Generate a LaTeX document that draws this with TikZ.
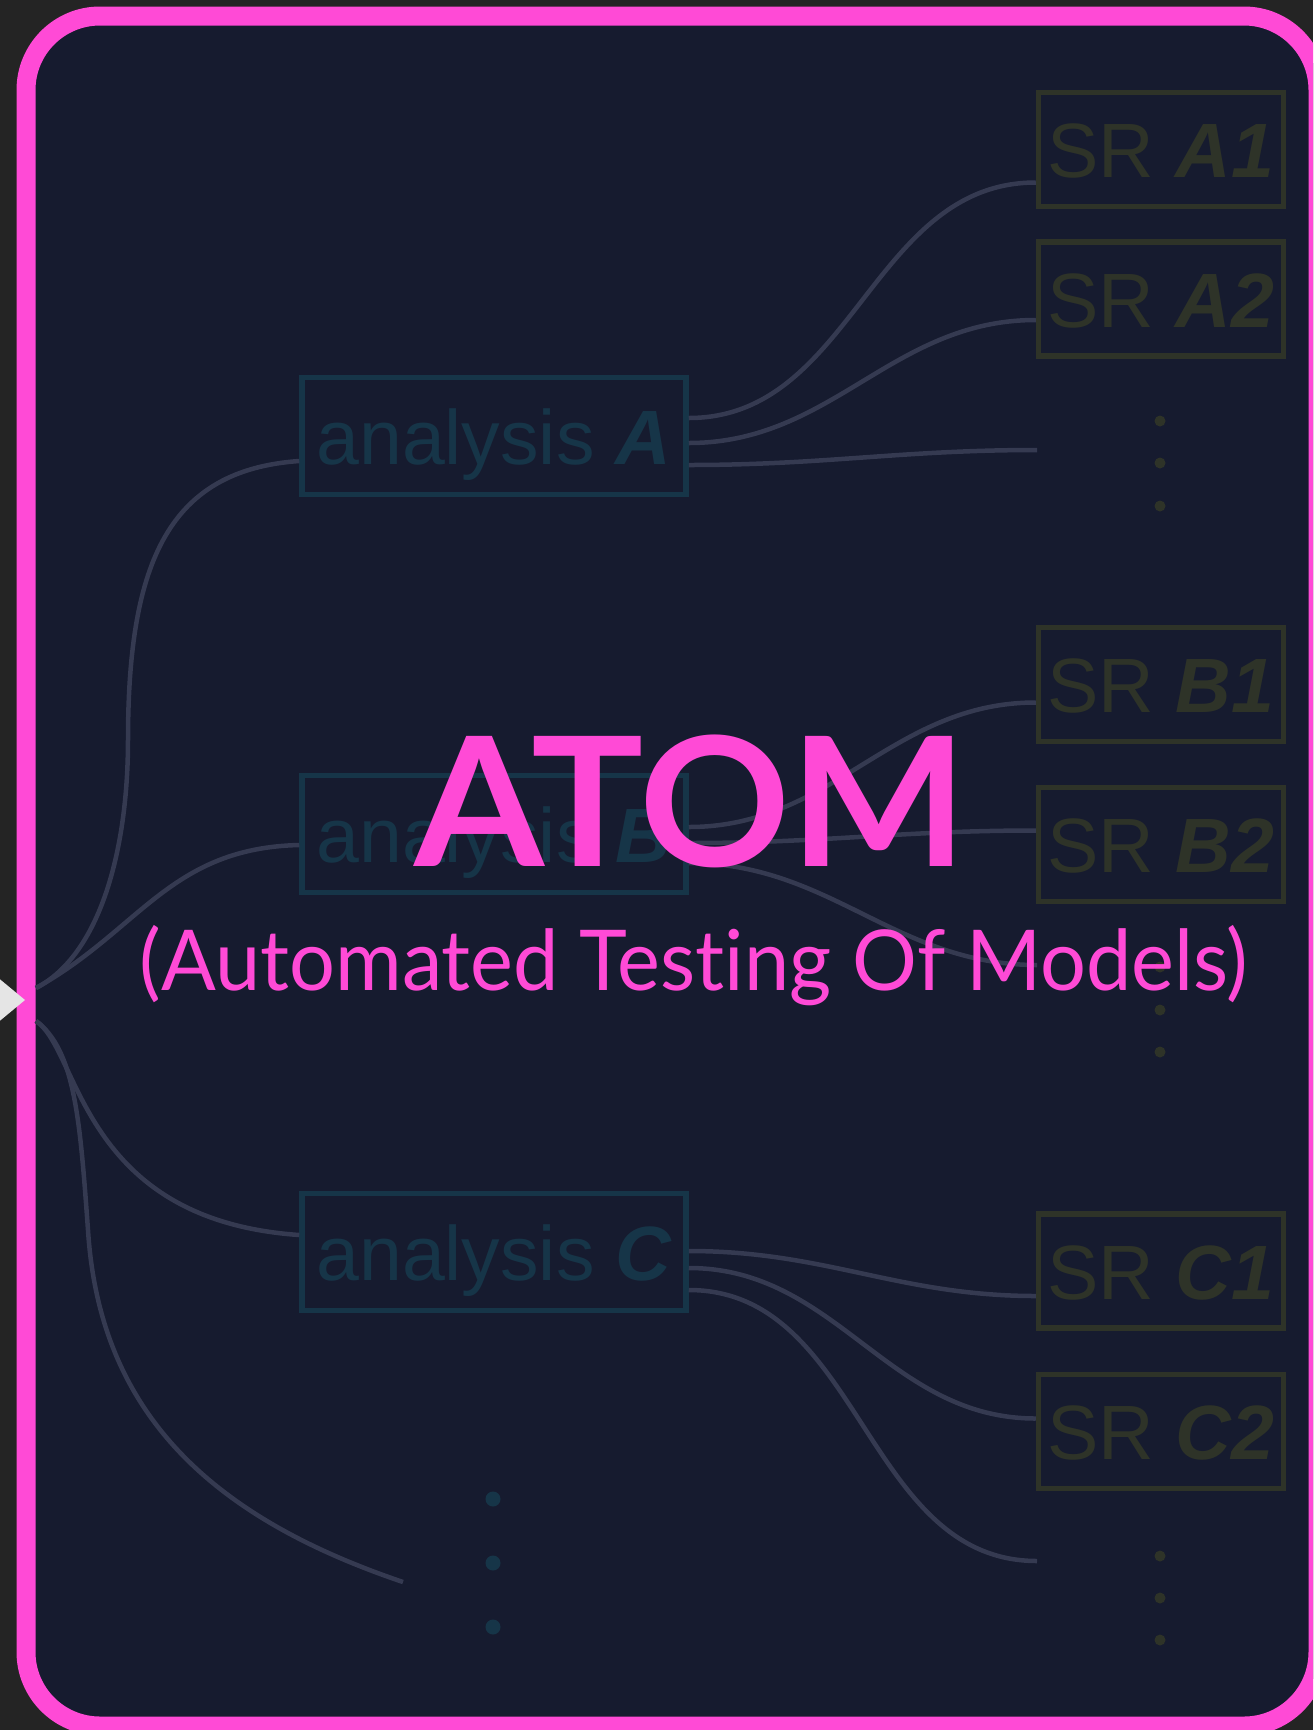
\documentclass[tikz,border=0pt]{standalone}
\usepackage{fontspec}
\usetikzlibrary{calc}
\newfontfamily\helv{Liberation Sans}
\newfontfamily\gill[Ligatures=NoCommon]{Lato}
\definecolor{slate}{HTML}{161B2F}
\definecolor{outside}{HTML}{242424}
\definecolor{hotpink}{HTML}{FF4AD6}
\definecolor{anacol}{HTML}{163548}
\definecolor{srcol}{HTML}{2E3328}
\definecolor{wire}{HTML}{353A51}
\tikzstyle{anabox} = [draw=anacol, text=anacol, line width=2.75pt, minimum width=192pt, minimum height=58.5pt, text height=28pt, text depth=0pt, inner sep=0pt, font=\helv\fontsize{38.5pt}{40pt}\selectfont]
\tikzstyle{srbox} = [draw=srcol, text=srcol, line width=2.75pt, minimum width=122.5pt, minimum height=57pt, text height=28pt, text depth=0pt, inner sep=0pt, font=\helv\fontsize{38.5pt}{40pt}\selectfont]
\tikzstyle{link} = [draw=wire, line width=2.25pt]

\begin{document}
\begin{tikzpicture}[x=0.5pt, y=-0.5pt]
    \useasboundingbox (0,0) rectangle (1313,1730);
    \clip (0,0) rectangle (1313,1730);
    \fill[outside] (0,0) rectangle (1313,1730);
    \draw[hotpink, line width=9.5pt, fill=slate, rounded corners=37pt] (26,16) rectangle (1318,1726);
    \fill[white!90!black] (-4,976) -- (25,1000) -- (-4,1024) -- cycle;

    % analyses
    \draw (494,436) node[anabox] (anaA) {analysis {\bfseries\itshape A}};
    \draw (494,834) node[anabox] (anaB) {analysis {\bfseries\itshape B}};
    \draw (494,1252) node[anabox] (anaC) {analysis {\bfseries\itshape C}};

    % signal regions
    \draw (1161,149.5) node[srbox] (srA1) {SR {\bfseries\itshape A1}};
    \draw (1161,299) node[srbox] (srA2) {SR {\bfseries\itshape A2}};
    \draw (1161,684.5) node[srbox] (srB1) {SR {\bfseries\itshape B1}};
    \draw (1161,844.5) node[srbox] (srB2) {SR {\bfseries\itshape B2}};
    \draw (1161,1271) node[srbox] (srC1) {SR {\bfseries\itshape C1}};
    \draw (1161,1431.5) node[srbox] (srC2) {SR {\bfseries\itshape C2}};

    \coordinate (root) at (36,1000);
    \coordinate (endA) at (1037,450);
    \coordinate (endB) at (1037,965);
    \coordinate (endC) at (1037,1561);
    \coordinate (endR) at (403,1582);

    % fan out of the root
    \draw[link] ($(root)+(0,-12)$) .. controls (100,955) and (128,850) .. (128,740) .. controls (128,560) and (170,470) .. ($(anaA.west)+(0,25)$);
    \draw[link] ($(root)+(0,-12)$) .. controls (140,930) and (170,848) .. ($(anaB.west)+(0,11)$);
    \draw[link] ($(root)+(0,21)$) .. controls (80,1050) and (80,1220) .. ($(anaC.west)+(0,-17)$);
    \draw[link] ($(root)+(0,21)$) .. controls (75,1050) and (80,1120) .. (88,1230) .. controls (100,1420) and (220,1520) .. (endR);

    % analysis -> SR
    \draw[link] ($(anaA.east)+(0,-18)$) to[out=0,in=180] ($(srA1.west)+(0,33)$);
    \draw[link] ($(anaA.east)+(0,7)$) to[out=0,in=180] ($(srA2.west)+(0,21)$);
    \draw[link] ($(anaA.east)+(0,29)$) to[out=0,in=180] (endA);
    \draw[link] ($(anaB.east)+(0,-7)$) to[out=0,in=180] ($(srB1.west)+(0,18)$);
    \draw[link] ($(anaB.east)+(0,9)$) to[out=0,in=180] ($(srB2.west)+(0,-14)$);
    \draw[link] ($(anaB.east)+(0,29)$) to[out=0,in=180] (endB);
    \draw[link] ($(anaC.east)+(0,-1)$) to[out=0,in=180] ($(srC1.west)+(0,25)$);
    \draw[link] ($(anaC.east)+(0,16)$) to[out=0,in=180] ($(srC2.west)+(0,-13)$);
    \draw[link] ($(anaC.east)+(0,38)$) to[out=0,in=180] (endC);

    % more to come
    \foreach \y in {421,463,506} \fill[srcol] (1160,\y) circle (2.75pt);
    \foreach \y in {967,1010,1052} \fill[srcol] (1160,\y) circle (2.75pt);
    \foreach \y in {1556,1598,1640} \fill[srcol] (1160,\y) circle (2.75pt);
    \foreach \y in {1499,1563,1627} \fill[anacol] (493,\y) circle (3.75pt);

    \draw (691,866) node[anchor=base, text=hotpink, font=\gill\bfseries\fontsize{90pt}{96pt}\selectfont] (atom) {\scalebox{1.04}[1]{ATOM}};
    \draw (694,990) node[anchor=base, text=hotpink, font=\gill\fontsize{42pt}{46pt}\selectfont] (longname) {\scalebox{0.965}[1]{(Automated Testing Of Models)}};
\end{tikzpicture}
\end{document}
